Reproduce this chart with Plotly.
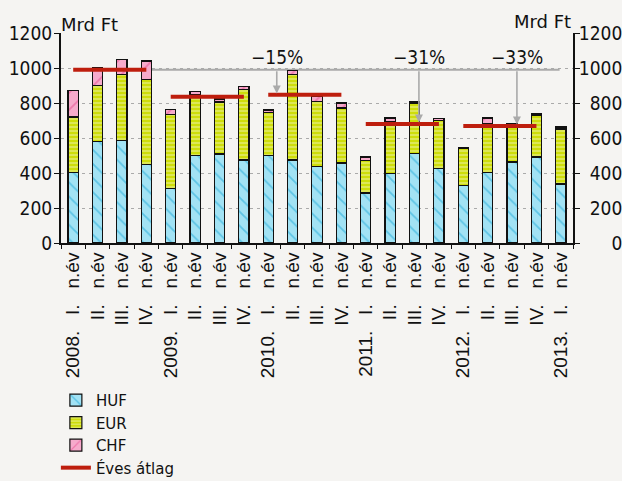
import plotly.graph_objects as go

quarters = ["I. n.év", "II. n.év", "III. n.év", "IV. n.év"]
years = ["2008.", "2009.", "2010.", "2011.", "2012.", "2013."]
n_bars = 21

huf = [405, 580, 585, 447, 312, 499, 509, 474, 499, 474, 438, 457, 286, 398, 510, 428, 329, 403, 463, 491, 337]
eur = [315, 320, 378, 486, 421, 348, 297, 402, 247, 489, 371, 314, 186, 295, 290, 272, 210, 277, 209, 240, 314]
chf = [150, 105, 84, 107, 29, 18, 17, 17, 14, 22, 29, 29, 19, 21, 7, 10, 6, 34, 8, 8, 12]

avg_years = ["2008.", "2009.", "2010.", "2011.", "2012."]
avg_values = [990, 836, 847, 680, 669]

changes = ["−15%", "−31%", "−33%"]

y_ticks = [0, 200, 400, 600, 800, 1000, 1200]

x_idx = list(range(n_bars))
ticktext = []
for i in x_idx:
    q = i % 4
    lab = quarters[q]
    lab = lab.replace(". n", ".\u00a0\u00a0\u00a0n")
    if q == 0:
        lab = years[i // 4] + "\u00a0\u00a0\u00a0" + lab
    ticktext.append(lab)

# right axis labels are right-aligned in the reference: pad with figure spaces
right_text = [("\u2007" * (4 - len(str(v)))) + str(v) for v in y_ticks]

BG = "#F5F4F2"
FONT = "DejaVu Sans Condensed, DejaVu Sans"
FONT2 = "DejaVu Sans"
fig = go.Figure()

common = dict(x=x_idx, width=0.42)
fig.add_trace(go.Bar(y=huf, name="HUF", **common,
                     marker=dict(color="#A2E2F4", line=dict(color="#111111", width=1.2),
                                 pattern=dict(shape="\\", bgcolor="#A2E2F4", fgcolor="#1AA6D6",
                                              size=10, solidity=0.18))))
fig.add_trace(go.Bar(y=eur, name="EUR", **common,
                     marker=dict(color="#CEDD0A", line=dict(color="#111111", width=1.2),
                                 pattern=dict(shape="-", bgcolor="#CEDD0A", fgcolor="#F4F7C8",
                                              size=4, solidity=0.4))))
fig.add_trace(go.Bar(y=chf, name="CHF", **common,
                     marker=dict(color="#F6AACB", line=dict(color="#111111", width=1.2),
                                 pattern=dict(shape="/", bgcolor="#F6AACB", fgcolor="#E8488E",
                                              size=12, solidity=0.15))))

lx, ly = [], []
for k, v in enumerate(avg_values):
    lx += [4 * k, 4 * k + 3, None]
    ly += [v, v, None]
fig.add_trace(go.Scatter(x=lx, y=ly, mode="lines", name="Éves átlag",
                         line=dict(color="#BE1E0E", width=4)))
fig.add_trace(go.Scatter(x=[0], y=[0], yaxis="y2", mode="markers",
                         marker=dict(opacity=0), showlegend=False, hoverinfo="skip"))

ref = avg_values[0]
fig.add_shape(type="line", xref="x", yref="y", x0=3.05, x1=19.95, y0=ref, y1=ref,
              line=dict(color="#AAAAAA", width=2), layer="below")
arrow_x = [8.35, 14.18, 18.2]
targets = avg_values[2:5]
for xa, yt, txt in zip(arrow_x, targets, changes):
    fig.add_annotation(x=xa, y=yt + 8, ax=xa, ay=ref, xref="x", yref="y", axref="x", ayref="y",
                       text="", showarrow=True, arrowhead=2, arrowsize=1, arrowwidth=1.6,
                       arrowcolor="#AAAAAA")
    fig.add_annotation(x=xa, y=1065, xref="x", yref="y", text=txt, showarrow=False,
                       font=dict(size=19, family=FONT, color="#111"))

fig.add_annotation(x=-0.004, y=1, xref="paper", yref="paper", xanchor="left", yanchor="bottom",
                   text="Mrd Ft", showarrow=False, yshift=-4,
                   font=dict(size=18, family=FONT2, color="#111"))
fig.add_annotation(x=1.0, y=1, xref="paper", yref="paper", xanchor="right", yanchor="bottom",
                   text="Mrd Ft", showarrow=False, yshift=-1,
                   font=dict(size=18, family=FONT2, color="#111"))

yfont = dict(size=19, family=FONT, color="#111")
fig.update_layout(
    width=622, height=481,
    margin=dict(l=61, r=49, t=33, b=238, autoexpand=False),
    paper_bgcolor=BG, plot_bgcolor=BG,
    barmode="stack",
    showlegend=True,
    legend=dict(x=-0.01, y=-0.671, xanchor="left", yanchor="top", bgcolor="rgba(0,0,0,0)",
                traceorder="normal",
                font=dict(size=15, family=FONT2, color="#111"),
                tracegroupgap=0, itemwidth=30),
    xaxis=dict(range=[-0.5, 20.5], tickvals=x_idx, ticktext=ticktext, tickangle=-90,
               tickfont=dict(size=19, family="Liberation Sans, Arial", color="#111"),
               showline=True, linecolor="#111", linewidth=2, showgrid=False, zeroline=False,
               automargin=False,
               ticks="", minor=dict(tick0=-0.5, dtick=1, ticks="outside", ticklen=4,
                                    tickcolor="#111", showgrid=False)),
    yaxis=dict(range=[0, 1200], tickvals=y_ticks, showline=True, linecolor="#111", linewidth=2,
               ticks="outside", ticklen=5, tickcolor="#111", tickfont=yfont,
               ticklabelstandoff=-2,
               showgrid=True, gridcolor="#AAAAAA", griddash="3px,4px", gridwidth=1,
               zeroline=False, automargin=False),
    yaxis2=dict(range=[0, 1200], tickvals=y_ticks, ticktext=right_text, overlaying="y",
                side="right", showline=True,
                linecolor="#111", linewidth=2, ticks="outside", ticklen=5, tickcolor="#111",
                tickfont=yfont, ticklabelstandoff=-5,
                showgrid=False, zeroline=False, automargin=False),
)

fig.write_html("out.html", config={"displayModeBar": False},
               post_script="document.body.style.margin='0';document.body.style.background='" + BG + "';")
